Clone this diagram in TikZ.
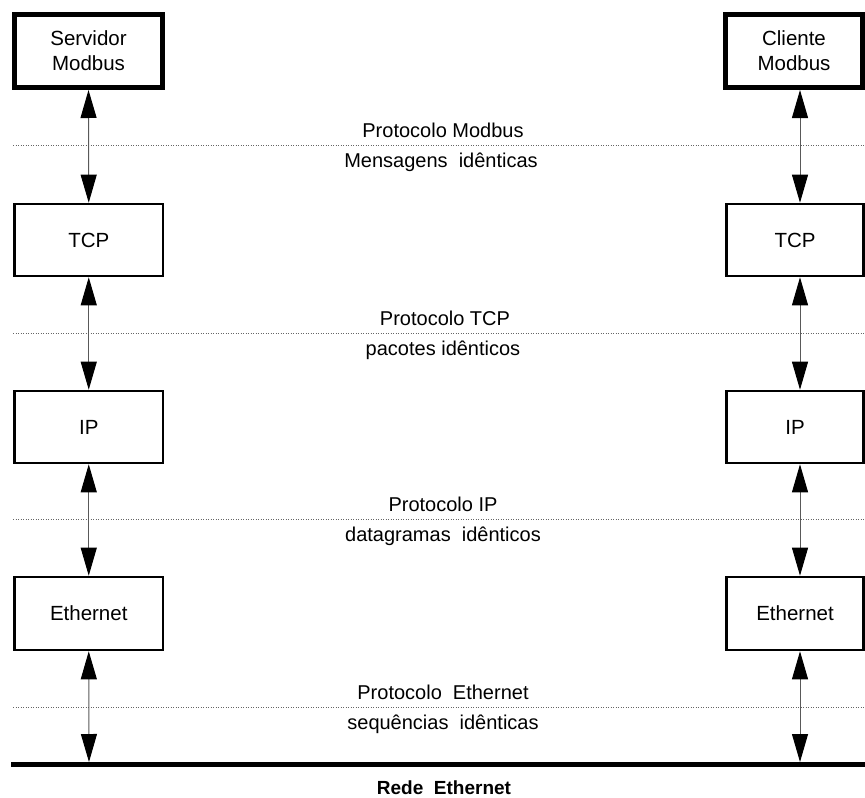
\documentclass[tikz,border=0pt]{standalone}
\usepackage{fontspec}
\setmainfont{Liberation Sans}
\usetikzlibrary{arrows.meta}
\begin{document}
\begin{tikzpicture}[x=1pt,y=-1pt,
  layerbox/.style={draw, line width=2.6pt, inner sep=0pt, minimum width=148.5pt,
    minimum height=72pt, align=center, font=\fontsize{20.5}{25}\selectfont},
  appbox/.style={layerbox, line width=5pt, minimum height=73pt},
  rightbox/.style={minimum width=137pt},
  link/.style={draw=black!65, line width=1pt,
    {Triangle[length=28pt,width=16pt,color=black]}-{Triangle[length=28pt,width=16pt,color=black]}},
  sep/.style={draw=black!60, line width=1pt, dash pattern=on 1pt off 1.5pt},
  lbl/.style={anchor=base, font=\fontsize{20}{22}\selectfont},
  ]
\useasboundingbox (0,0) rectangle (865,798);

% protocol separators
\foreach \y in {145,333,519,707}
  \draw[sep] (13,\y) -- (865,\y);

% left stack (server)
\node[appbox] (srv) at (88.5,51) {Servidor\\Modbus};
\node[layerbox] (tcpL) at (88.75,240) {TCP};
\node[layerbox] (ipL) at (88.75,427) {IP};
\node[layerbox, minimum height=73pt] (ethL) at (88.75,613.5) {Ethernet};

% right stack (client)
\node[appbox, rightbox] (cli) at (794,51) {Cliente\\Modbus};
\node[layerbox, rightbox] (tcpR) at (795,240) {TCP};
\node[layerbox, rightbox] (ipR) at (795,427) {IP};
\node[layerbox, rightbox, minimum height=73pt] (ethR) at (795,613.5) {Ethernet};

% network bus
\draw[line width=5pt] (11,764.5) -- (865,764.5);
\coordinate (busL) at (89,762);
\coordinate (busR) at (800,762);
\coordinate (colR) at (800,0);

% vertical links
\draw[link] (srv.south) -- (tcpL.north);
\draw[link] (tcpL.south) -- (ipL.north);
\draw[link] (ipL.south) -- (ethL.north);
\draw[link] (ethL.south) -- (busL);

\draw[link] (cli.south -| colR) -- (tcpR.north -| colR);
\draw[link] (tcpR.south -| colR) -- (ipR.north -| colR);
\draw[link] (ipR.south -| colR) -- (ethR.north -| colR);
\draw[link] (ethR.south -| colR) -- (busR);

% labels
\node[lbl] (l1a) at (443,137) {Protocolo Modbus};
\node[lbl] (l1b) at (441,167) {Mensagens\ \ idênticas};
\node[lbl] (l2a) at (445,325) {Protocolo TCP};
\node[lbl] (l2b) at (443,355) {pacotes idênticos};
\node[lbl] (l3a) at (443,511) {Protocolo IP};
\node[lbl] (l3b) at (443,541) {datagramas\ \ idênticos};
\node[lbl] (l4a) at (443,699) {Protocolo\ \ Ethernet};
\node[lbl] (l4b) at (443,729) {sequências\ \ idênticas};

\node[anchor=base, font=\bfseries\fontsize{19}{22}\selectfont] (bus) at (444,794) {Rede\ \ Ethernet};
\end{tikzpicture}
\end{document}
